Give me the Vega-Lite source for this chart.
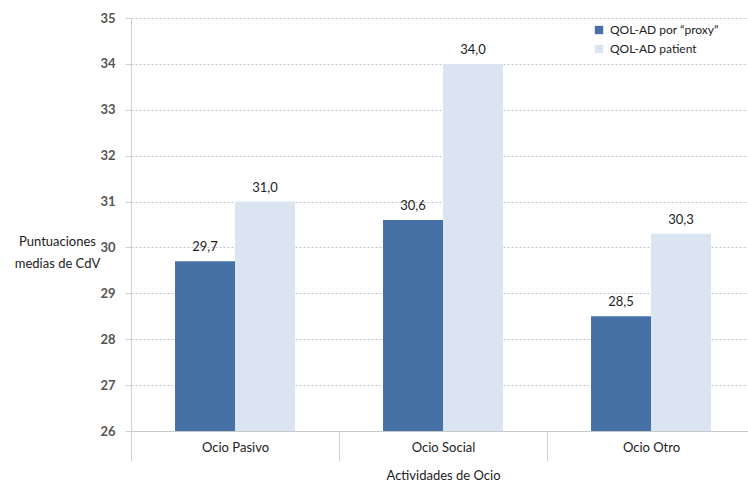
{
  "$schema": "https://vega.github.io/schema/vega-lite/v6.json",
  "autosize": "none",
  "width": 624,
  "height": 413,
  "padding": {"left": 131, "top": 18, "right": 0, "bottom": 54},
  "background": "white",
  "config": {
    "font": "Lato",
    "view": {"stroke": null},
    "locale": {"number": {"decimal": ",", "thousands": ".", "grouping": [3], "currency": ["", " €"]}}
  },
  "data": {
    "values": [
      {"actividad": "Ocio Pasivo", "serie": "QOL-AD por “proxy”", "valor": 29.7},
      {"actividad": "Ocio Pasivo", "serie": "QOL-AD patient", "valor": 31.0},
      {"actividad": "Ocio Social", "serie": "QOL-AD por “proxy”", "valor": 30.6},
      {"actividad": "Ocio Social", "serie": "QOL-AD patient", "valor": 34.0},
      {"actividad": "Ocio Otro", "serie": "QOL-AD por “proxy”", "valor": 28.5},
      {"actividad": "Ocio Otro", "serie": "QOL-AD patient", "valor": 30.3}
    ]
  },
  "encoding": {
    "x": {
      "field": "actividad",
      "type": "nominal",
      "sort": ["Ocio Pasivo", "Ocio Social", "Ocio Otro"],
      "scale": {"paddingInner": 0, "paddingOuter": 0},
      "axis": {
        "title": "Actividades de Ocio",
        "labelAngle": 0,
        "labelFontSize": 13,
        "labelColor": "#222222",
        "labelPadding": -20,
        "labelBaseline": "top",
        "titleFontSize": 13,
        "titleFontWeight": "normal",
        "titleColor": "#222222",
        "titlePadding": 8,
        "domainColor": "#c8c8c8",
        "tickColor": "#d0d0d0",
        "tickBand": "extent",
        "tickSize": 30
      }
    },
    "xOffset": {
      "field": "serie",
      "type": "nominal",
      "sort": ["QOL-AD por “proxy”", "QOL-AD patient"],
      "scale": {"paddingInner": 0, "paddingOuter": 0.733}
    },
    "y": {
      "field": "valor",
      "type": "quantitative",
      "scale": {"domain": [26, 35], "zero": false, "nice": false},
      "axis": {
        "title": ["Puntuaciones", "medias de CdV"],
        "titleAngle": 0,
        "titleAlign": "center",
        "titleBaseline": "middle",
        "titleX": -74,
        "titleY": 223,
        "titleLineHeight": 22,
        "titleFontSize": 13,
        "titleFontWeight": "normal",
        "titleColor": "#222222",
        "values": [26, 27, 28, 29, 30, 31, 32, 33, 34, 35],
        "labelFontSize": 13,
        "labelFontWeight": "bold",
        "labelColor": "#555555",
        "labelPadding": 10,
        "domainColor": "#d0d0d0",
        "tickColor": "#d0d0d0",
        "tickSize": 6,
        "gridColor": "#b8c4d4",
        "gridDash": [2, 2],
        "gridWidth": 1
      }
    }
  },
  "layer": [
    {
      "mark": {"type": "bar", "clip": true},
      "encoding": {
        "color": {
          "field": "serie",
          "type": "nominal",
          "sort": ["QOL-AD por “proxy”", "QOL-AD patient"],
          "scale": {"domain": ["QOL-AD por “proxy”", "QOL-AD patient"], "range": ["#4571a7", "#dbe5f1"]},
          "legend": {
            "title": null,
            "orient": "none",
            "legendX": 462,
            "legendY": 6,
            "symbolType": "square",
            "symbolSize": 70,
            "symbolStrokeWidth": 0,
            "labelFontSize": 12,
            "labelColor": "#222222",
            "rowPadding": 7,
            "labelOffset": 5
          }
        }
      }
    },
    {
      "mark": {"type": "text", "dy": -14, "fontSize": 13, "color": "#222222"},
      "encoding": {
        "text": {"field": "valor", "type": "quantitative", "format": ".1f"}
      }
    }
  ]
}
